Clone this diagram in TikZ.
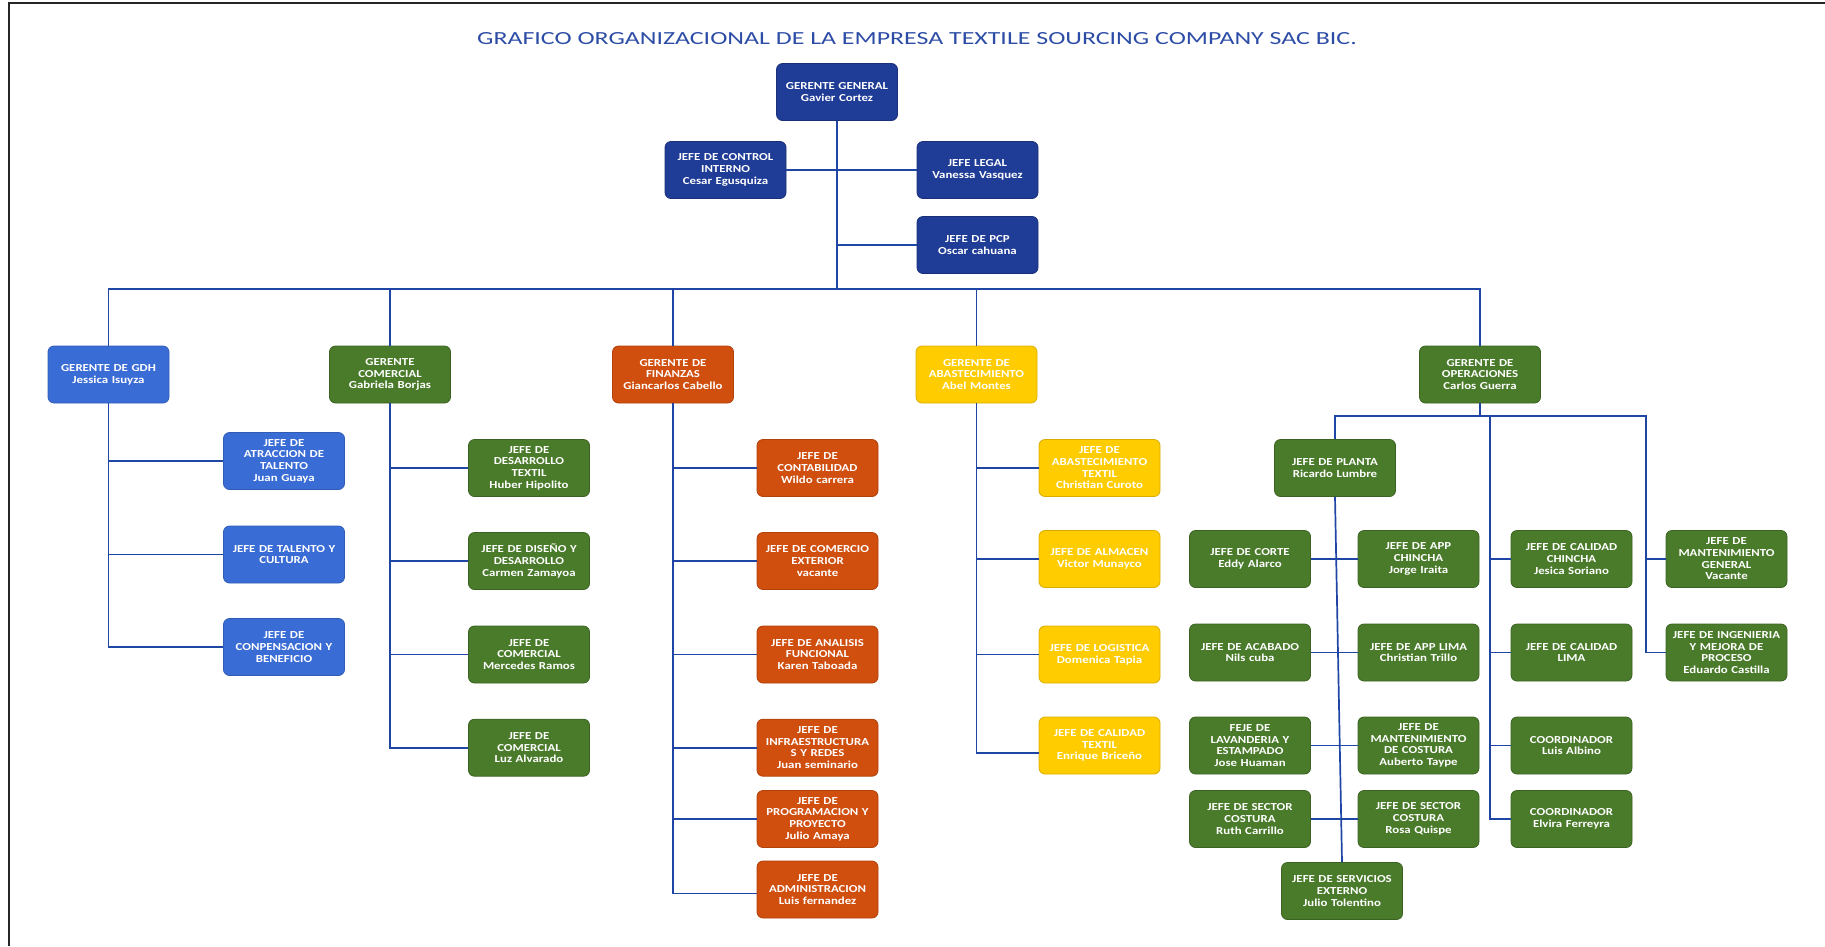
\documentclass[tikz,border=0pt]{standalone}
\usepackage{fontspec}
\setmainfont{Carlito}
\newfontfamily\titlefont{Carlito}[FakeStretch=1.4]
\newfontfamily\boxfont{Carlito}[FakeStretch=1.2]

\definecolor{navy}{HTML}{1F3C96}
\definecolor{gdhblue}{HTML}{3A6CD6}
\definecolor{leafgreen}{HTML}{4A7B2B}
\definecolor{rust}{HTML}{D04E0E}
\definecolor{gold}{HTML}{FFCC00}
\definecolor{wirecol}{HTML}{1F45A5}
\definecolor{headline}{HTML}{2C4CA6}

\tikzset{
  box/.style={rounded corners=6pt, minimum width=121pt, minimum height=57pt,
    text width=117pt, align=center, inner sep=0pt, line width=0.8pt,
    font=\boxfont\bfseries\fontsize{10.7}{11.7}\selectfont, text=white},
  navybox/.style={box, fill=navy, draw=navy!80!black},
  hrbox/.style={box, fill=gdhblue, draw=gdhblue!85!black},
  greenbox/.style={box, fill=leafgreen, draw=leafgreen!80!black},
  rustbox/.style={box, fill=rust, draw=rust!85!black},
  goldbox/.style={box, fill=gold, draw=gold!85!black},
  wire/.style={draw=wirecol, line width=1.7pt},
  frame/.style={draw=black!85, line width=2pt}
}

\begin{document}
\begin{tikzpicture}[x=1pt, y=-1pt]
\useasboundingbox (0,0) rectangle (1825,946);
\draw[frame] (9,946) -- (9,3) -- (1825,3);

\node[font=\titlefont\fontsize{18.5}{22}\selectfont, text=headline] (title) at (917,39)
  {GRAFICO ORGANIZACIONAL DE LA EMPRESA TEXTILE SOURCING COMPANY SAC BIC.};

% general management and staff
\node[navybox] (gg) at (837,92) {GERENTE GENERAL\\Gavier Cortez};
\node[navybox] (ci) at (725.5,170) {JEFE DE CONTROL\\INTERNO\\Cesar Egusquiza};
\node[navybox] (legal) at (977.5,170) {JEFE LEGAL\\Vanessa Vasquez};
\node[navybox] (pcp) at (977.5,245) {JEFE DE PCP\\Oscar cahuana};

% managers
\node[hrbox] (gdh) at (108.5,374.5) {GERENTE DE GDH\\Jessica Isuyza};
\node[greenbox] (com) at (390,374.5) {GERENTE\\COMERCIAL\\Gabriela Borjas};
\node[rustbox] (fin) at (673,374.5) {GERENTE DE\\FINANZAS\\Giancarlos Cabello};
\node[goldbox] (aba) at (976.5,374.5) {GERENTE DE\\ABASTECIMIENTO\\Abel Montes};
\node[greenbox] (ope) at (1480,374.5) {GERENTE DE\\OPERACIONES\\Carlos Guerra};

% human resources
\node[hrbox] (g1) at (284,461) {JEFE DE\\ATRACCION DE\\TALENTO\\Juan Guaya};
\node[hrbox] (g2) at (284,554.5) {JEFE DE TALENTO Y\\CULTURA};
\node[hrbox] (g3) at (284,647) {JEFE DE\\CONPENSACION Y\\BENEFICIO};

% commercial
\node[greenbox] (c1) at (529,468) {JEFE DE\\DESARROLLO\\TEXTIL\\Huber Hipolito};
\node[greenbox] (c2) at (529,561) {JEFE DE DISEÑO Y\\DESARROLLO\\Carmen Zamayoa};
\node[greenbox] (c3) at (529,654.5) {JEFE DE\\COMERCIAL\\Mercedes Ramos};
\node[greenbox] (c4) at (529,747.7) {JEFE DE\\COMERCIAL\\Luz Alvarado};

% finance
\node[rustbox] (f1) at (817.5,468) {JEFE DE\\CONTABILIDAD\\Wildo carrera};
\node[rustbox] (f2) at (817.5,561) {JEFE DE COMERCIO\\EXTERIOR\\vacante};
\node[rustbox] (f3) at (817.5,654.5) {JEFE DE ANALISIS\\FUNCIONAL\\Karen Taboada};
\node[rustbox] (f4) at (817.5,747.7) {JEFE DE\\INFRAESTRUCTURA\\S Y REDES\\Juan seminario};
\node[rustbox] (f5) at (817.5,819) {JEFE DE\\PROGRAMACION Y\\PROYECTO\\Julio Amaya};
\node[rustbox] (f6) at (817.5,889.5) {JEFE DE\\ADMINISTRACION\\Luis fernandez};

% supply
\node[goldbox] (a1) at (1099.5,468) {JEFE DE\\ABASTECIMIENTO\\TEXTIL\\Christian Curoto};
\node[goldbox] (a2) at (1099.5,559) {JEFE DE ALMACEN\\Victor Munayco};
\node[goldbox] (a3) at (1099.5,654.5) {JEFE DE LOGISTICA\\Domenica Tapia};
\node[goldbox] (a4) at (1099.5,745.5) {JEFE DE CALIDAD\\TEXTIL\\Enrique Briceño};

% operations
\node[greenbox] (planta) at (1335,468) {JEFE DE PLANTA\\Ricardo Lumbre};
\node[greenbox] (corte) at (1250,559) {JEFE DE CORTE\\Eddy Alarco};
\node[greenbox] (appch) at (1418.5,559) {JEFE DE APP\\CHINCHA\\Jorge Iraita};
\node[greenbox] (calch) at (1571.5,559) {JEFE DE CALIDAD\\CHINCHA\\Jesica Soriano};
\node[greenbox] (mant) at (1726.5,559) {JEFE DE\\MANTENIMIENTO\\GENERAL\\Vacante};
\node[greenbox] (acab) at (1250,652.5) {JEFE DE ACABADO\\Nils cuba};
\node[greenbox] (applima) at (1418.5,652.5) {JEFE DE APP LIMA\\Christian Trillo};
\node[greenbox] (callima) at (1571.5,652.5) {JEFE DE CALIDAD\\LIMA};
\node[greenbox] (ing) at (1726.5,652.5) {JEFE DE INGENIERIA\\Y MEJORA DE\\PROCESO\\Eduardo Castilla};
\node[greenbox] (lav) at (1250,745.5) {FEJE DE\\LAVANDERIA Y\\ESTAMPADO\\Jose Huaman};
\node[greenbox] (mcost) at (1418.5,745.5) {JEFE DE\\MANTENIMIENTO\\DE COSTURA\\Auberto Taype};
\node[greenbox] (coord1) at (1571.5,745.5) {COORDINADOR\\Luis Albino};
\node[greenbox] (sec1) at (1250,819) {JEFE DE SECTOR\\COSTURA\\Ruth Carrillo};
\node[greenbox] (sec2) at (1418.5,819) {JEFE DE SECTOR\\COSTURA\\Rosa Quispe};
\node[greenbox] (coord2) at (1571.5,819) {COORDINADOR\\Elvira Ferreyra};
\node[greenbox] (serv) at (1342,891) {JEFE DE SERVICIOS\\EXTERNO\\Julio Tolentino};

% top connectors
\coordinate (bus) at (837,289);
\draw[wire] (gg.south) -- (bus);
\draw[wire] (ci.east) -- (legal.west);
\draw[wire] (gg.south |- pcp.west) -- (pcp.west);
\draw[wire] (gdh.north) |- (bus) -| (ope.north);
\draw[wire] (com.north) -- (com.north |- bus);
\draw[wire] (fin.north) -- (fin.north |- bus);
\draw[wire] (aba.north) -- (aba.north |- bus);

% human resources connectors
\draw[wire] (gdh.south) |- (g3.west);
\draw[wire] (gdh.south |- g1.west) -- (g1.west);
\draw[wire] (gdh.south |- g2.west) -- (g2.west);

% commercial connectors
\draw[wire] (com.south) |- (c4.west);
\foreach \n in {c1,c2,c3} \draw[wire] (com.south |- \n.west) -- (\n.west);

% finance connectors
\draw[wire] (fin.south) |- ([yshift=-4pt]f6.west);
\foreach \n in {f1,f2,f3,f4,f5} \draw[wire] (fin.south |- \n.west) -- (\n.west);

% supply connectors
\draw[wire] (aba.south) |- ([yshift=-7.5pt]a4.west);
\foreach \n in {a1,a2,a3} \draw[wire] (aba.south |- \n.west) -- (\n.west);

% operations connectors
\coordinate (obus) at (1480,416);
\coordinate (calbus) at (1490,416);
\coordinate (mntbus) at (1646,416);
\draw[wire] (ope.south) -- (obus);
\draw[wire] (planta.north) |- (mntbus) |- (ing.west);
\draw[wire] (mntbus |- mant.west) -- (mant.west);
\draw[wire] (calbus) |- (coord2.west);
\foreach \n in {calch,callima,coord1} \draw[wire] (calbus |- \n.west) -- (\n.west);
\draw[wire] (planta.south) -- (serv.north);
\draw[wire] (corte.east) -- (appch.west);
\draw[wire] (acab.east) -- (applima.west);
\draw[wire] (lav.east) -- (mcost.west);
\draw[wire] (sec1.east) -- (sec2.west);
\end{tikzpicture}
\end{document}
